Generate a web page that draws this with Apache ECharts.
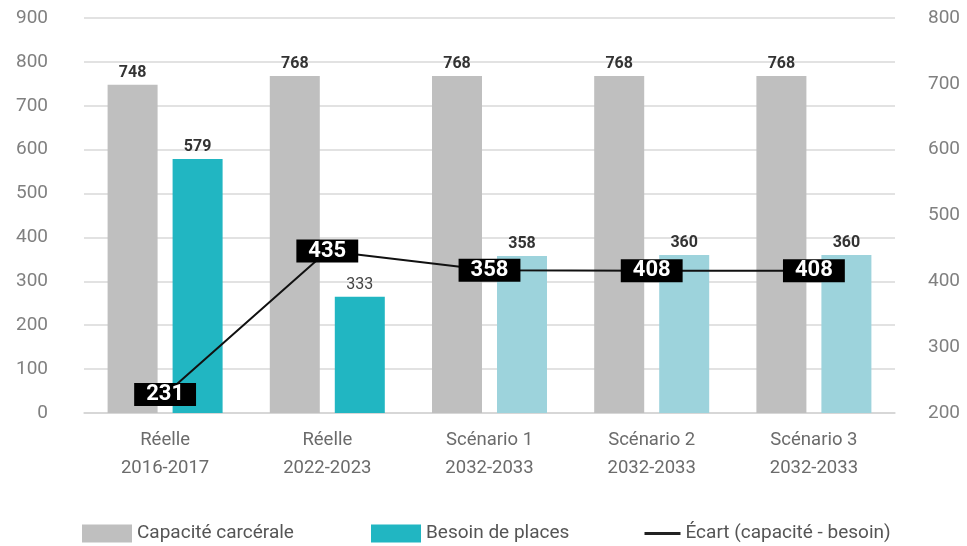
<!DOCTYPE html>
<html>
<head>
<meta charset="utf-8">
<script src="https://cdn.jsdelivr.net/npm/echarts@6/dist/echarts.min.js"></script>
<style>
html,body{margin:0;padding:0;background:#fff;}
#chart{width:967px;height:546px;}
</style>
</head>
<body>
<div id="chart"></div>
<script>
// Data
var categories = ['Réelle\n2016-2017', 'Réelle\n2022-2023', 'Scénario 1\n2032-2033', 'Scénario 2\n2032-2033', 'Scénario 3\n2032-2033'];
var capaciteValues = [748, 768, 768, 768, 768];
var besoinValues = [579, 265, 358, 360, 360];
var besoinLabels = ['579', '333', '358', '360', '360'];
var besoinProjected = [false, false, true, true, true];
var ecartValues = [228, 446, 417, 416, 416];
var ecartLabels = ['231', '435', '358', '408', '408'];
var leftTicks = {min: 0, max: 900, interval: 100};
var rightTicks = {min: 200, max: 800, interval: 100};

var FONT = 'Roboto';
var chart = echarts.init(document.getElementById('chart'));

var besoinData = besoinValues.map(function (v, i) {
  return {
    value: v,
    itemStyle: {color: besoinProjected[i] ? '#9dd3dc' : '#21b6c2'},
    label: i === 1 ? {fontWeight: 'normal', color: '#444'} : undefined
  };
});

var legendText = {fontFamily: FONT, fontSize: 19, color: '#555'};

chart.setOption({
  animation: false,
  textStyle: {fontFamily: FONT},
  grid: {left: 84, right: 72, top: 18, bottom: 133},
  legend: [
    {left: 77, top: 519, itemWidth: 50, itemHeight: 18,
     textStyle: legendText,
     data: [{name: 'Capacité carcérale', icon: 'rect'}]},
    {left: 366, top: 519, itemWidth: 50, itemHeight: 18,
     textStyle: legendText,
     data: [{name: 'Besoin de places', icon: 'rect'}]},
    {left: 638, top: 519, itemWidth: 36, itemHeight: 18,
     textStyle: legendText,
     itemStyle: {opacity: 0},
     lineStyle: {width: 3, color: '#222'},
     data: [{name: 'Écart (capacité - besoin)'}]}
  ],
  xAxis: {
    type: 'category',
    data: categories,
    axisTick: {show: false},
    axisLine: {lineStyle: {color: '#d4d4d4', width: 1.5}},
    axisLabel: {fontFamily: FONT, fontSize: 18.5, color: '#6b6b6b', lineHeight: 28, margin: 13}
  },
  yAxis: [
    {
      type: 'value', min: leftTicks.min, max: leftTicks.max, interval: leftTicks.interval,
      axisLine: {show: false}, axisTick: {show: false},
      axisLabel: {fontFamily: FONT, fontSize: 19, color: '#808080', margin: 36},
      splitLine: {lineStyle: {color: '#d8d8d8', width: 1.5}}
    },
    {
      type: 'value', min: rightTicks.min, max: rightTicks.max, interval: rightTicks.interval,
      position: 'right',
      axisLine: {show: false}, axisTick: {show: false},
      axisLabel: {fontFamily: FONT, fontSize: 19, color: '#808080', margin: 33},
      splitLine: {show: false}
    }
  ],
  series: [
    {
      name: 'Capacité carcérale', type: 'bar', yAxisIndex: 0,
      data: capaciteValues, barWidth: 50, barGap: '30%',
      itemStyle: {color: '#bfbfbf'},
      label: {show: true, position: 'top', distance: 4, fontFamily: FONT, fontSize: 16, fontWeight: 'bold', color: '#333'}
    },
    {
      name: 'Besoin de places', type: 'bar', yAxisIndex: 0,
      data: besoinData, barWidth: 50,
      itemStyle: {color: '#21b6c2'},
      label: {show: true, position: 'top', distance: 4, fontFamily: FONT, fontSize: 16, fontWeight: 'bold', color: '#333',
        formatter: function (p) { return besoinLabels[p.dataIndex]; }}
    },
    {
      name: 'Écart (capacité - besoin)', type: 'line', yAxisIndex: 1,
      data: ecartValues, z: 10,
      symbol: 'circle', symbolSize: 1, showSymbol: true,
      lineStyle: {color: '#111', width: 2},
      itemStyle: {color: '#111'},
      label: {show: true, position: 'inside', fontFamily: FONT, fontSize: 22, fontWeight: 'bold', color: '#fff',
        backgroundColor: '#000', padding: [1, 12, 0, 12],
        formatter: function (p) { return ecartLabels[p.dataIndex]; }}
    }
  ]
});
</script>
</body>
</html>
